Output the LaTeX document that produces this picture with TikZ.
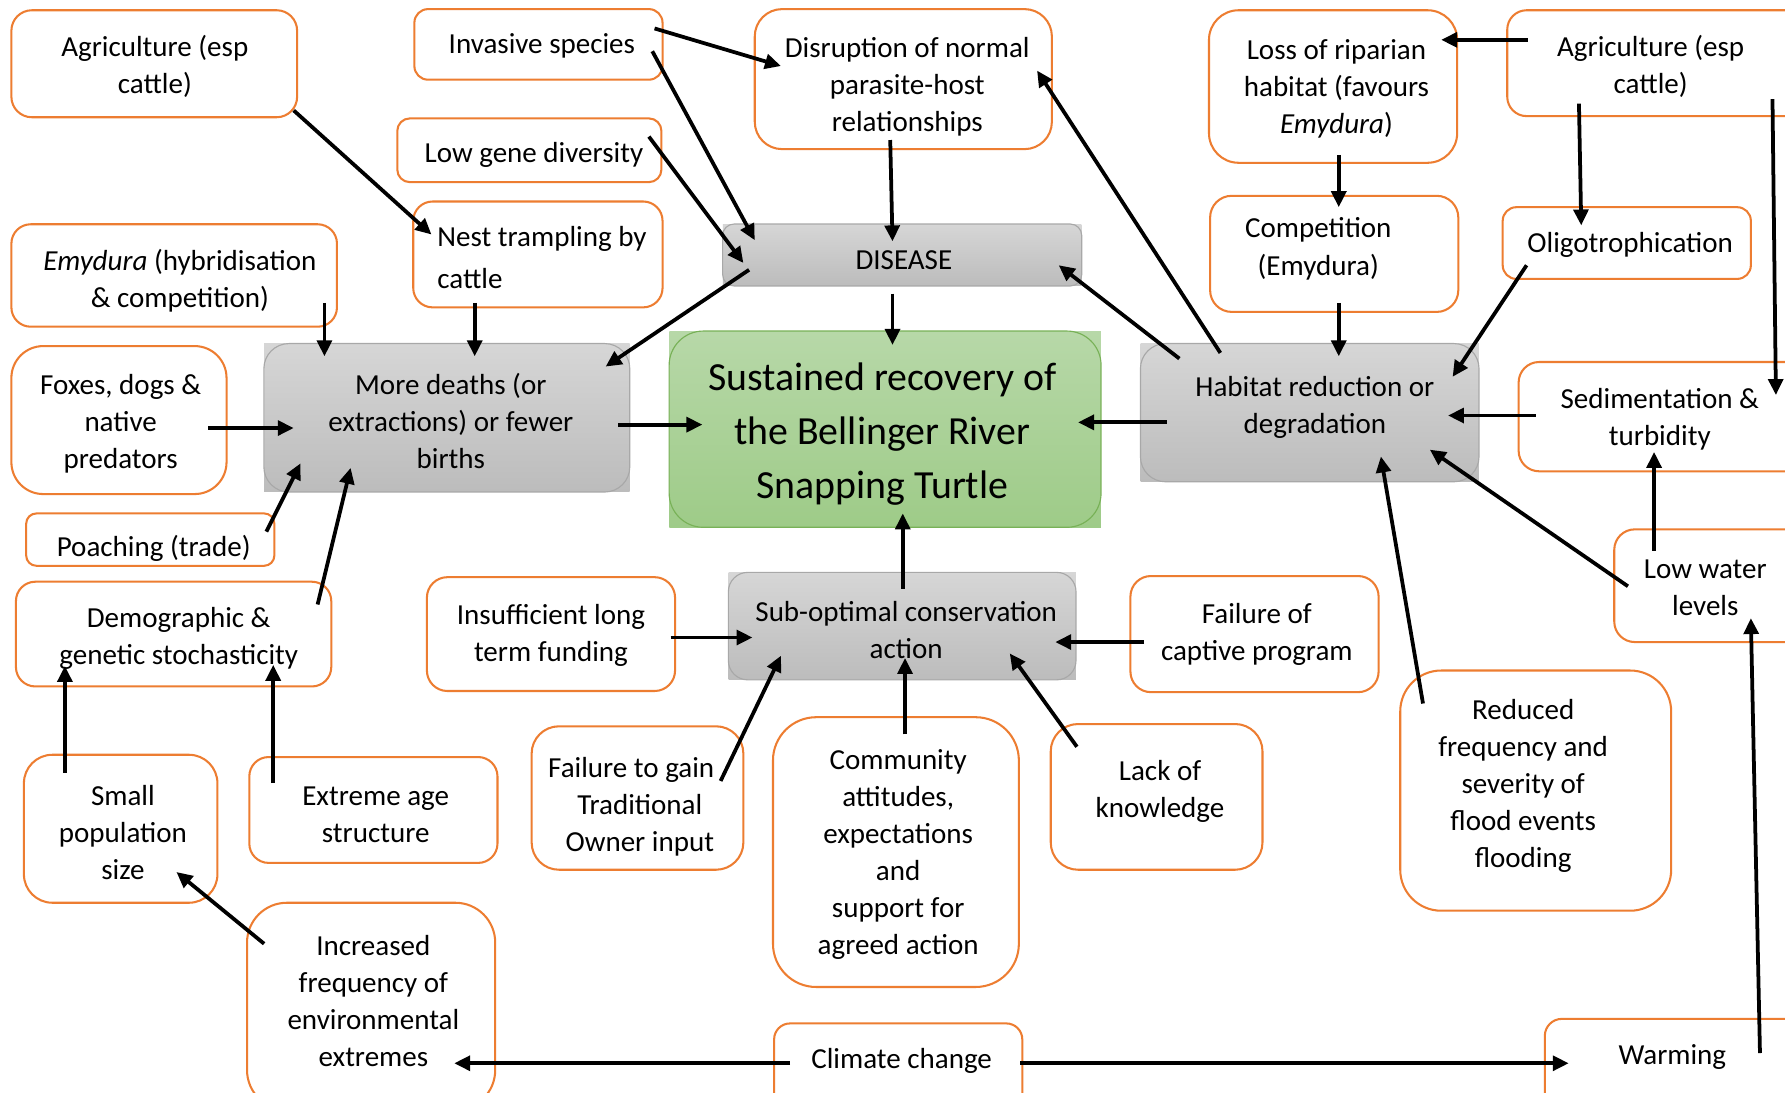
\documentclass[tikz,border=0pt]{standalone}
\usepackage{fontspec}
\setmainfont{Carlito}
\usetikzlibrary{arrows.meta}
\definecolor{boxorange}{HTML}{ED7D31}
\definecolor{graytop}{HTML}{D6D6D6}
\definecolor{graybot}{HTML}{BCBCBC}
\definecolor{grayedge}{HTML}{A8A8A8}
\definecolor{greentop}{HTML}{B7D8A8}
\definecolor{greenbot}{HTML}{9ECB88}
\definecolor{greenedge}{HTML}{78B157}

% arrow from a point inside one node to a point inside another (offsets from centres)
\newcommand\arrowlink[4]{\draw[arr] ([shift={(#2)}]#1.center) -- ([shift={(#4)}]#3.center);}

\begin{document}
\begin{tikzpicture}[x=1pt,y=-1pt,
  obox/.style={draw=boxorange, line width=1.8pt, fill=white, rectangle,
               rounded corners=#1pt, inner sep=0pt},
  gbox/.style={rectangle, inner sep=0pt, top color=graytop, bottom color=graybot, draw=none},
  grbox/.style={rectangle, inner sep=0pt, top color=greentop, bottom color=greenbot, draw=none},
  txt/.style={inner sep=0pt, align=center, yshift=-2.5pt, font=\fontsize{25.5}{32.5}\selectfont},
  title/.style={inner sep=0pt, align=center, yshift=-2.5pt, font=\fontsize{35}{47.5}\selectfont},
  arr/.style={line width=3.3pt, -{Triangle[length=14pt,width=13pt]}}
]
\clip (0,0) rectangle (1568,960);
\fill[white] (0,0) rectangle (1568,960);

% ---- orange-outlined factor boxes
\node[obox=18, minimum width=251pt, minimum height=94pt]  (agriL) at (135.5,56) {};
\node[obox=12, minimum width=218pt, minimum height=62pt]  (invasive) at (473,39) {};
\node[obox=11, minimum width=232pt, minimum height=56pt]  (lowgene) at (465,132) {};
\node[obox=17, minimum width=219pt, minimum height=93pt]  (nest) at (472.5,223.5) {};
\node[obox=17, minimum width=286pt, minimum height=90pt]  (emydura) at (153,242) {};
\node[obox=28, minimum width=189pt, minimum height=130pt] (foxes) at (104.5,369) {};
\node[obox=9,  minimum width=218pt, minimum height=46pt]  (poaching) at (132,474) {};
\node[obox=17, minimum width=277pt, minimum height=92pt]  (demographic) at (152.5,557) {};
\node[obox=25, minimum width=170pt, minimum height=130pt] (small) at (106,728) {};
\node[obox=17, minimum width=218pt, minimum height=93pt]  (extreme) at (328,711.5) {};
\node[obox=35, minimum width=218pt, minimum height=182pt] (increased) at (326,884) {};
\node[obox=18, minimum width=218pt, minimum height=100pt] (insufficient) at (484,557) {};
\node[obox=24, minimum width=186pt, minimum height=126pt] (failgain) at (560,701) {};
\node[obox=38, minimum width=216pt, minimum height=237pt] (community) at (787,748.5) {};
\node[obox=24, minimum width=186pt, minimum height=128pt] (lack) at (1016,700) {};
\node[obox=14, minimum width=218pt, minimum height=76pt]  (climate) at (789,937) {};
\node[obox=18, minimum width=218pt, minimum height=102pt] (failcaptive) at (1102,557) {};
\node[obox=36, minimum width=238pt, minimum height=211pt] (reduced) at (1349,694.5) {};
\node[obox=15, minimum width=233pt, minimum height=80pt]  (warming) at (1473.5,935) {};
\node[obox=18, minimum width=172pt, minimum height=99pt]  (lowwater) at (1504,514.5) {};
\node[obox=18, minimum width=256pt, minimum height=96pt]  (sediment) at (1462,366) {};
\node[obox=12, minimum width=218pt, minimum height=63pt]  (oligo) at (1429,213.5) {};
\node[obox=17, minimum width=266pt, minimum height=93pt]  (agriR) at (1457,55.5) {};
\node[obox=26, minimum width=218pt, minimum height=134pt] (lossrip) at (1171,76) {};
\node[obox=19, minimum width=218pt, minimum height=102pt] (competition) at (1172,223) {};
\node[obox=24, minimum width=261pt, minimum height=123pt] (disruption) at (793.5,69.5) {};

% ---- grey intermediate boxes
\node[gbox, minimum width=315pt, minimum height=54pt]  (disease) at (792.5,224) {};
\node[gbox, minimum width=321pt, minimum height=130pt] (moredeaths) at (392.5,367) {};
\node[gbox, minimum width=305pt, minimum height=94pt]  (suboptimal) at (792.5,550) {};
\node[gbox, minimum width=297pt, minimum height=121pt] (habitat) at (1150.5,362.5) {};
\foreach \n/\r in {disease/10, moredeaths/22, suboptimal/17, habitat/22}
  \draw[grayedge, line width=1pt, rounded corners=\r pt] (\n.north west) rectangle (\n.south east);

% ---- central goal
\node[grbox, minimum width=379pt, minimum height=172pt] (recovery) at (777.5,377) {};
\draw[greenedge, line width=1pt, rounded corners=30pt] (recovery.north west) rectangle (recovery.south east);

% ---- labels
\node[txt] (agriL-t) at (136,56) {Agriculture (esp\\cattle)};
\node[txt] (invasive-t) at (476,38) {Invasive species};
\node[txt] (lowgene-t) at (469,134) {Low gene diversity};
\node[txt, align=left, anchor=west, yshift=2.5pt, font=\fontsize{25.5}{37}\selectfont] (nest-t) at (384,226.5) {Nest trampling by\\cattle};
\node[txt] (emydura-t) at (158,244) {\textit{Emydura} (hybridisation\\\& competition)};
\node[txt] (foxes-t) at (106,370) {Foxes, dogs \&\\native\\predators};
\node[txt] (poaching-t) at (135,479) {Poaching (trade)};
\node[txt] (demographic-t) at (157,558.5) {Demographic \&\\genetic stochasticity};
\node[txt] (small-t) at (108,729) {Small\\population\\size};
\node[txt] (extreme-t) at (330,713) {Extreme age\\structure};
\node[txt] (increased-t) at (328,876.5) {Increased\\frequency of\\environmental\\extremes};
\node[txt] (insufficient-t) at (484,555.5) {Insufficient long\\term funding};
\node[txt] (failgain-t) at (562,706) {Failure to gain\hspace*{15pt}\\Traditional\\Owner input};
\node[txt] (community-t) at (789,748.5) {Community\\attitudes,\\expectations\\and\\support for\\agreed action};
\node[txt] (lack-t) at (1019,692.5) {Lack of\\knowledge};
\node[txt] (climate-t) at (792,929) {Climate change};
\node[txt] (failcaptive-t) at (1104,554.5) {Failure of\\captive program};
\node[txt] (reduced-t) at (1338,688) {Reduced\\frequency and\\severity of\\flood events\\flooding};
\node[txt] (warming-t) at (1469,926) {Warming};
\node[txt] (lowwater-t) at (1498,513.5) {Low water\\levels};
\node[txt] (sediment-t) at (1458,365.5) {Sedimentation \&\\turbidity};
\node[txt] (oligo-t) at (1432,213) {Oligotrophication};
\node[txt] (agriR-t) at (1450,55.5) {Agriculture (esp\\cattle)};
\node[txt] (lossrip-t) at (1174,75.5) {Loss of riparian\\habitat (favours\\\textit{Emydura})};
\node[txt, font=\fontsize{25.5}{34}\selectfont] (competition-t) at (1158,216) {Competition\\(Emydura)};
\node[txt] (disruption-t) at (797,73.5) {Disruption of normal\\parasite-host\\relationships};
\node[txt] (disease-t) at (794,226) {DISEASE};
\node[txt] (moredeaths-t) at (396,367) {More deaths (or\\extractions) or fewer\\births};
\node[txt] (suboptimal-t) at (796,551) {Sub-optimal conservation\\action};
\node[txt] (habitat-t) at (1155,355.5) {Habitat reduction or\\degradation};
\node[title] (recovery-t) at (775,378.5) {Sustained recovery of\\the Bellinger River\\Snapping Turtle};

% ---- causal links
\arrowlink{agriL}{122.5,41}{nest}{-93.5,-17.5}
\arrowlink{invasive}{102,-14}{disruption}{-107.5,-11.5}
\arrowlink{invasive}{100,6}{disease}{-129.5,-13}
\arrowlink{lowgene}{105,-12}{disease}{-139.5,7}
\arrowlink{disease}{-134.5,13}{moredeaths}{139.5,-45}
\arrowlink{emydura}{132,24}{moredeaths}{-107.5,-54}
\arrowlink{nest}{-55.5,42.5}{moredeaths}{24.5,-54}
\arrowlink{foxes}{78.5,7}{moredeaths}{-134.5,9}
\arrowlink{poaching}{102,-7}{moredeaths}{-128.5,40}
\arrowlink{demographic}{126.5,-26}{moredeaths}{-84.5,44}
\arrowlink{small}{-49,-49}{demographic}{-95.5,28}
\arrowlink{extreme}{-88,-23.5}{demographic}{87.5,27}
\arrowlink{increased}{-94,-55}{small}{49,38}
\arrowlink{climate}{-95,-3}{increased}{73,50}
\arrowlink{climate}{107,-3}{warming}{-95.5,-1}
\arrowlink{warming}{72.5,-10}{lowwater}{34,28.5}
\arrowlink{lowwater}{-51,-30.5}{sediment}{-9,31}
\arrowlink{lowwater}{-74,0.5}{habitat}{105.5,32.5}
\arrowlink{reduced}{-99,-76.5}{habitat}{62.5,38.5}
\arrowlink{sediment}{-113,-1}{habitat}{121.5,2.5}
\arrowlink{agriR}{100,31.5}{sediment}{98,-19}
\arrowlink{agriR}{-70,35.5}{oligo}{-40,-15.5}
\arrowlink{agriR}{-115,-20.5}{lossrip}{95,-41}
\arrowlink{lossrip}{5,60}{competition}{4,-41}
\arrowlink{competition}{4,43}{habitat}{25.5,-49.5}
\arrowlink{oligo}{-88,19.5}{habitat}{125.5,-31.5}
\arrowlink{habitat}{-114.5,-47.5}{disease}{137.5,9}
\arrowlink{habitat}{-78.5,-52.5}{disruption}{117.5,-7.5}
\arrowlink{disruption}{-11.5,53.5}{disease}{-8.5,-12}
\arrowlink{disease}{-8.5,34}{recovery}{6.5,-74}
\arrowlink{moredeaths}{150.5,6}{recovery}{-160.5,-4}
\arrowlink{habitat}{-125.5,8.5}{recovery}{169.5,-6}
\arrowlink{suboptimal}{0.5,-33}{recovery}{15.5,74}
\arrowlink{insufficient}{105,3}{suboptimal}{-131.5,10}
\arrowlink{failcaptive}{-97,7}{suboptimal}{134.5,14}
\arrowlink{failgain}{73,-15}{suboptimal}{-106.5,26}
\arrowlink{community}{8,-103.5}{suboptimal}{2.5,28}
\arrowlink{lack}{-70,-44}{suboptimal}{94.5,24}
\end{tikzpicture}
\end{document}
